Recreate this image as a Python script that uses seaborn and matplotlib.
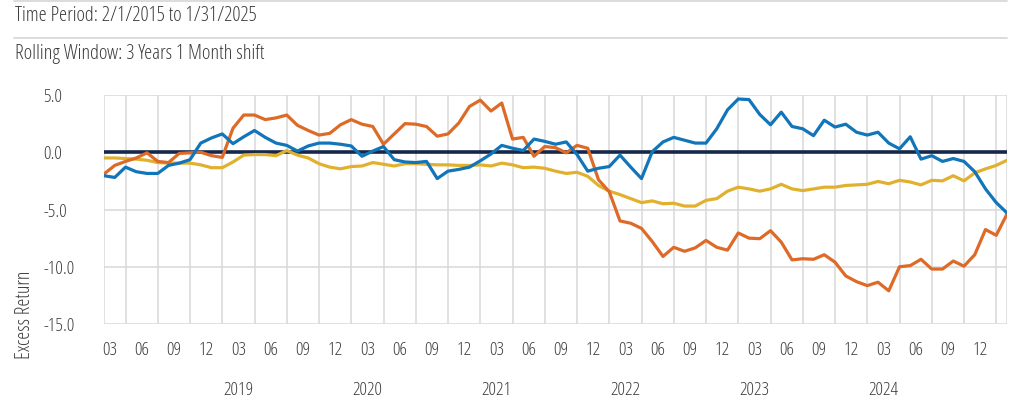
import numpy as np
import pandas as pd
import matplotlib.pyplot as plt
from matplotlib.lines import Line2D
import seaborn as sns

# rolling 3y excess return, one point per month end (Jan 2018 .. Jan 2025)
blue_vals = [-2.05, -2.2, -1.3, -1.7, -1.85, -1.85, -1.15, -0.95, -0.65, 0.8,
             1.25, 1.6, 0.75, 1.35, 1.9, 1.3, 0.8, 0.6, 0.1, 0.55,
             0.8, 0.8, 0.7, 0.55, -0.35, 0.1, 0.5, -0.65, -0.85, -0.9,
             -0.8, -2.3, -1.65, -1.5, -1.3, -0.75, -0.15, 0.6, 0.35, 0.15,
             1.15, 0.95, 0.7, 0.9, -0.2, -1.65, -1.4, -1.25, -0.25, -1.3,
             -2.3, 0.05, 0.9, 1.3, 1.05, 0.8, 0.8, 2.05, 3.7, 4.65,
             4.6, 3.3, 2.4, 3.5, 2.25, 2.05, 1.45, 2.8, 2.2, 2.45,
             1.75, 1.5, 1.75, 0.8, 0.3, 1.35, -0.6, -0.3, -0.8, -0.55,
             -0.8, -1.7, -3.2, -4.4, -5.3]
orange_vals = [-1.9, -1.15, -0.8, -0.5, -0.05, -0.8, -0.9, -0.1, -0.05, 0.0,
               -0.3, -0.45, 2.1, 3.25, 3.25, 2.85, 3.0, 3.25, 2.35, 1.9,
               1.5, 1.65, 2.4, 2.85, 2.45, 2.25, 0.7, 1.6, 2.5, 2.45,
               2.25, 1.4, 1.6, 2.55, 4.0, 4.55, 3.6, 4.3, 1.15, 1.3,
               -0.35, 0.5, 0.4, -0.05, 0.6, 0.35, -2.4, -3.45, -6.0, -6.2,
               -6.65, -7.8, -9.1, -8.3, -8.65, -8.35, -7.7, -8.3, -8.55, -7.05,
               -7.5, -7.55, -6.85, -7.85, -9.4, -9.3, -9.35, -8.95, -9.6, -10.8,
               -11.3, -11.65, -11.35, -12.1, -10.0, -9.9, -9.35, -10.2, -10.2, -9.5,
               -9.95, -8.95, -6.75, -7.25, -5.4]
yellow_vals = [-0.5, -0.5, -0.55, -0.6, -0.7, -0.9, -0.95, -0.95, -0.95, -1.1,
               -1.35, -1.35, -0.85, -0.25, -0.2, -0.2, -0.3, 0.15, -0.25, -0.5,
               -1.0, -1.3, -1.45, -1.25, -1.2, -0.9, -1.05, -1.2, -1.0, -1.0,
               -1.05, -1.1, -1.1, -1.15, -1.15, -1.1, -1.2, -0.95, -1.1, -1.35,
               -1.3, -1.4, -1.65, -1.85, -1.75, -2.1, -2.9, -3.4, -3.7, -4.05,
               -4.4, -4.25, -4.5, -4.45, -4.7, -4.7, -4.2, -4.05, -3.4, -3.05,
               -3.2, -3.4, -3.2, -2.8, -3.2, -3.35, -3.2, -3.05, -3.05, -2.9,
               -2.85, -2.8, -2.55, -2.75, -2.45, -2.6, -2.85, -2.45, -2.5, -2.05,
               -2.5, -1.8, -1.45, -1.15, -0.7]

month_ends = pd.date_range("2018-01-31", "2025-01-31", freq="ME")
year_labels = ["2019", "2020", "2021", "2022", "2023", "2024"]
quarter_labels = ["03", "06", "09", "12"]
y_ticks = [5, 0, -5, -10, -15]

COLORS = {"blue": "#1175b9", "orange": "#de6a28", "yellow": "#e1b12e"}
GRID = "#d9d9d9"
TXT = "#3d3d3d"
NAVY = "#16284a"
W, H = 1015, 404
FS = 13.5

sns.set_theme(style="white")
plt.rcParams["font.family"] = ["Open Sans", "DejaVu Sans"]
plt.rcParams["font.stretch"] = "condensed"

n = len(month_ends)
idx = np.arange(n)
df = pd.concat([
    pd.DataFrame({"idx": idx, "value": blue_vals, "series": "blue"}),
    pd.DataFrame({"idx": idx, "value": orange_vals, "series": "orange"}),
    pd.DataFrame({"idx": idx, "value": yellow_vals, "series": "yellow"}),
])

fig = plt.figure(figsize=(W / 100, H / 100), dpi=100)
ax = fig.add_axes([104 / W, 1 - 324 / H, (1007 - 104) / W, (324 - 95) / H])

ax.axhline(0, color=NAVY, lw=2.6, zorder=1.5)
sns.lineplot(data=df, x="idx", y="value", hue="series", palette=COLORS,
             hue_order=["yellow", "orange", "blue"], lw=2.3, legend=False,
             ax=ax, zorder=3)

ax.set_xlim(0, n - 1)
ax.set_ylim(-15, 5)
for s in ax.spines.values():
    s.set_visible(False)

# quarter boundaries (month-end index), year boundaries are the Decembers
is_dec = month_ends.month == 12
is_q = month_ends.month.isin([3, 6, 9, 12])
year_b = idx[is_dec]
quarter_b = [i for i in idx[is_q | (idx == 0) | (idx == n - 1)] if i not in year_b]
ax.set_xticks(year_b)
ax.set_xticks(quarter_b, minor=True)
ax.tick_params(axis="x", which="major", length=58, width=1.1, color=GRID,
               labelbottom=False)
ax.tick_params(axis="x", which="minor", length=9.5, width=1.1, color=GRID)
ax.grid(True, which="both", axis="x", color=GRID, lw=1.1, zorder=0)

ax.set_yticks(y_ticks, labels=[f"{v:.1f}" for v in y_ticks], ha="left")
ax.tick_params(axis="y", length=10.8, width=1.1, color=GRID, pad=33,
               labelsize=FS, labelcolor=TXT)
ax.grid(True, axis="y", color=GRID, lw=1.1, zorder=0)
ax.set_xlabel("")
ax.set_ylabel("")

xt = ax.get_xaxis_transform()
# month labels centred in each quarter
for q_end in idx[is_q]:
    ax.text(q_end - 1.5, -0.115, quarter_labels[month_ends[q_end].month // 3 - 1],
            transform=xt, ha="center", va="center", fontsize=FS, color=TXT)
for b, lab in zip(year_b, year_labels):
    ax.text(b + 0.1, -0.29, lab, transform=xt, ha="left", va="center",
            fontsize=FS, color=TXT)

fig.text(25 / W, 1 - 315 / H, "Excess Return", rotation=90, ha="center",
         va="center", fontsize=14.5, color=TXT)

fig.text(15 / W, 1 - 16 / H, "Time Period: 2/1/2015 to 1/31/2025",
         ha="left", va="center", fontsize=14.7, color=TXT)
fig.text(15 / W, 1 - 54 / H, "Rolling Window: 3 Years 1 Month shift",
         ha="left", va="center", fontsize=14.7, color=TXT)
for yy in (1, 38):
    fig.add_artist(Line2D([14 / W, 1007 / W], [1 - yy / H, 1 - yy / H],
                          color=GRID, lw=1.3))

fig.savefig("out.png", dpi=100)
